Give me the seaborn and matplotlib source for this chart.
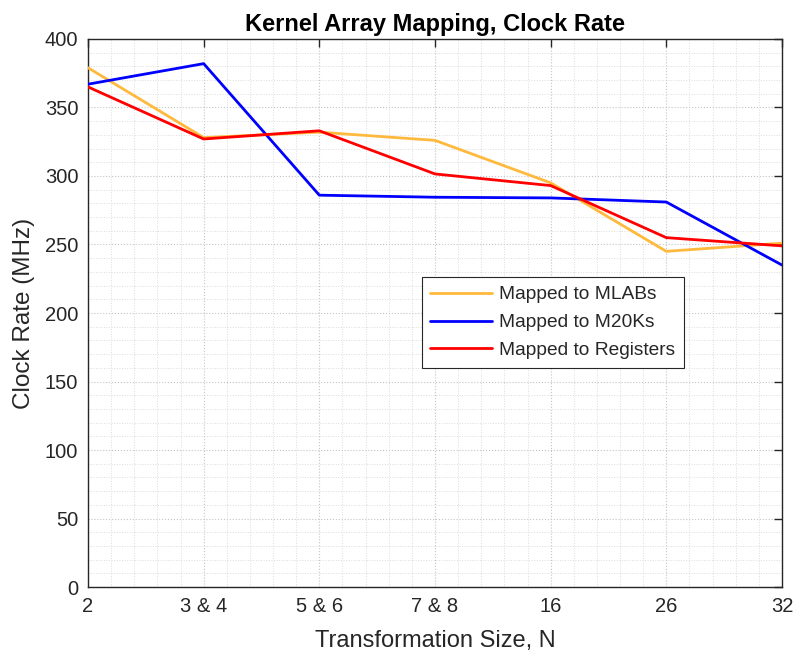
import matplotlib
matplotlib.use("Agg")
import matplotlib.pyplot as plt
import seaborn as sns
import pandas as pd
import numpy as np
from matplotlib.ticker import MultipleLocator

categories = ["2", "3 & 4", "5 & 6", "7 & 8", "16", "26", "32"]
mlabs = [379, 328, 332, 326, 295, 245, 251]
m20ks = [367, 382, 286, 284.5, 284, 281, 235]
registers = [365, 327, 333, 301.5, 293, 255, 249]
series_names = ["Mapped to MLABs", "Mapped to M20Ks", "Mapped to Registers"]
colors = ["#FFB93C", "#0000FF", "#FF0000"]

rows = []
for name, vals in zip(series_names, [mlabs, m20ks, registers]):
    for i, v in enumerate(vals):
        rows.append({"pos": i, "rate": v, "series": name})
df = pd.DataFrame(rows)

sns.set_theme(style="white")
plt.rcParams["font.family"] = ["Liberation Sans", "DejaVu Sans"]

fig = plt.figure(figsize=(7.95, 6.54), dpi=100)
ax = fig.add_axes([0.1107, 0.1024, 0.8729, 0.838])

sns.lineplot(data=df, x="pos", y="rate", hue="series", palette=colors,
             hue_order=series_names, linewidth=2.0, ax=ax, zorder=3)

ax.set_xlim(0, len(categories) - 1)
ax.set_ylim(0, 400)
ax.set_xticks(range(len(categories)))
ax.set_xticklabels(categories)
ax.yaxis.set_major_locator(MultipleLocator(50))
ax.xaxis.set_minor_locator(MultipleLocator(0.2))
ax.yaxis.set_minor_locator(MultipleLocator(10))

ax.grid(True, which="major", linestyle=":", color="#c4c4c4", linewidth=0.8)
ax.grid(True, which="minor", linestyle=":", color="#dcdcdc", linewidth=0.7)
ax.set_axisbelow(True)

ax.tick_params(axis="both", which="major", direction="in", length=6, width=1,
               top=True, right=True, labelsize=14.5, colors="#262626", pad=7)
ax.tick_params(axis="both", which="minor", length=0)
for s in ax.spines.values():
    s.set_color("#262626")
    s.set_linewidth(1.0)
    s.set_visible(True)

ax.set_xlabel("Transformation Size, N", fontsize=17, color="#262626", labelpad=10)
ax.set_ylabel("Clock Rate (MHz)", fontsize=17.5, color="#262626", labelpad=7)
ax.set_title("Kernel Array Mapping, Clock Rate", fontsize=17, fontweight="bold",
             color="black", pad=6)

leg = ax.legend(loc="lower left", bbox_to_anchor=(0.481, 0.4), fontsize=13.8,
                frameon=True, fancybox=False, framealpha=1, edgecolor="#262626",
                handlelength=3.2, borderpad=0.45, labelspacing=0.55, handletextpad=0.4,
                borderaxespad=0)
leg.get_frame().set_linewidth(0.8)
for line in leg.get_lines():
    line.set_linewidth(2.0)

fig.savefig("out.png", dpi=100)
